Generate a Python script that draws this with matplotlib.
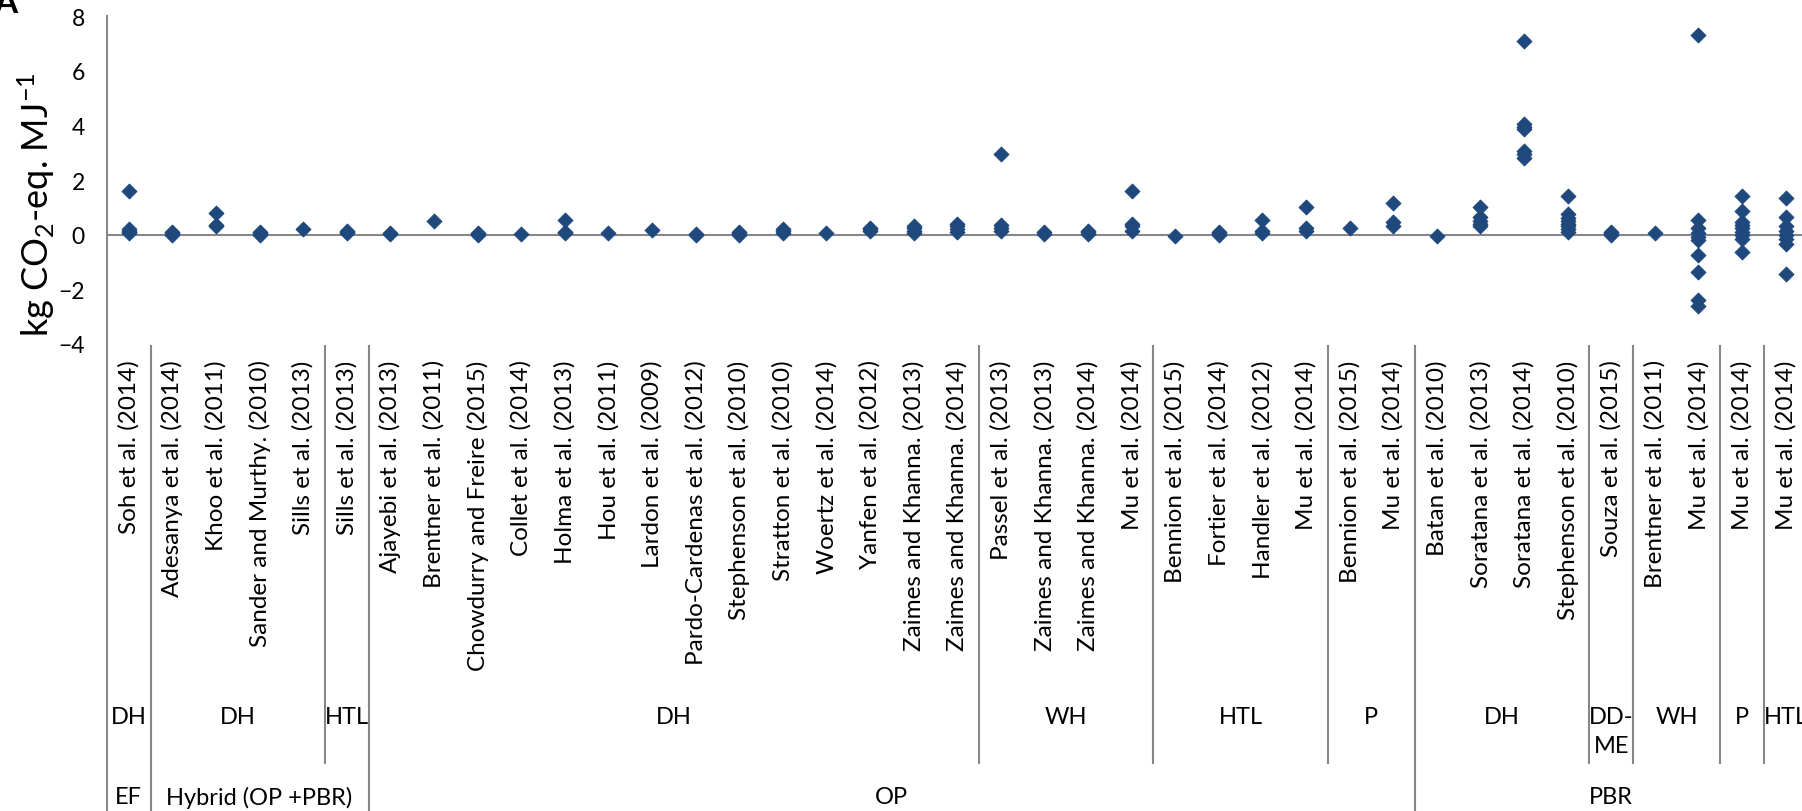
import matplotlib
matplotlib.use('Agg')
from matplotlib import pyplot as plt
from matplotlib import transforms
import numpy as np

# study labels, left to right
studies = [
    'Soh et al. (2014)',
    'Adesanya et al. (2014)', 'Khoo et al. (2011)', 'Sander and Murthy. (2010)', 'Sills et al. (2013)',
    'Sills et al. (2013)',
    'Ajayebi et al. (2013)', 'Brentner et al. (2011)', 'Chowdurry and Freire (2015)', 'Collet et al. (2014)',
    'Holma et al. (2013)', 'Hou et al. (2011)', 'Lardon et al. (2009)', 'Pardo-Cardenas et al. (2012)',
    'Stephenson et al. (2010)', 'Stratton et al. (2010)', 'Woertz et al. (2014)', 'Yanfen et al. (2012)',
    'Zaimes and Khanna. (2013)', 'Zaimes and Khanna. (2014)',
    'Passel et al. (2013)', 'Zaimes and Khanna. (2013)', 'Zaimes and Khanna. (2014)', 'Mu et al. (2014)',
    'Bennion et al. (2015)', 'Fortier et al. (2014)', 'Handler et al. (2012)', 'Mu et al. (2014)',
    'Bennion et al. (2015)', 'Mu et al. (2014)',
    'Batan et al. (2010)', 'Soratana et al. (2013)', 'Soratana et al. (2014)', 'Stephenson et al. (2010)',
    'Souza et al. (2015)',
    'Brentner et al. (2011)', 'Mu et al. (2014)',
    'Mu et al. (2014)',
    'Mu et al. (2014)',
]

# conversion pathway groups (first level) and cultivation system (second level)
process_names = ['DH', 'DH', 'HTL', 'DH', 'WH', 'HTL', 'P', 'DH', 'DD-\nME', 'WH', 'P', 'HTL']
process_sizes = [1, 4, 1, 14, 4, 4, 2, 4, 1, 2, 1, 1]
system_names = ['EF', 'Hybrid (OP +PBR)', 'OP', 'PBR']
system_sizes = [1, 5, 24, 9]

# kg CO2-eq. per MJ, one list per study
ghg = [
    [1.6, 0.05, 0.1, 0.15, 0.2],
    [0.0, 0.05, 0.1],
    [0.8, 0.35, 0.3],
    [0.0, 0.05, 0.1],
    [0.22],
    [0.05, 0.1, 0.15],
    [0.03, 0.06],
    [0.5],
    [0.0, 0.03, 0.06],
    [0.03],
    [0.55, 0.1, 0.05],
    [0.05],
    [0.17],
    [0.0, 0.03],
    [0.0, 0.05, 0.1],
    [0.05, 0.15, 0.22],
    [0.05],
    [0.12, 0.2, 0.25],
    [0.05, 0.15, 0.25, 0.3],
    [0.1, 0.2, 0.3, 0.4],
    [2.95, 0.15, 0.25, 0.35],
    [0.03, 0.08],
    [0.03, 0.1, 0.15],
    [1.6, 0.15, 0.3, 0.4],
    [-0.05],
    [0.0, 0.05, 0.1],
    [0.55, 0.05, 0.15],
    [1.0, 0.15, 0.25],
    [0.25],
    [1.15, 0.3, 0.45],
    [-0.05],
    [1.0, 0.65, 0.5, 0.4, 0.3],
    [7.1, 4.05, 3.95, 3.85, 3.05, 2.95, 2.8],
    [1.42, 0.75, 0.6, 0.5, 0.4, 0.3, 0.2, 0.1],
    [0.0, 0.05, 0.1],
    [0.05],
    [7.3, 0.55, 0.25, 0.05, -0.1, -0.2, -0.75, -1.35, -2.4, -2.6],
    [1.42, 0.88, 0.45, 0.35, 0.25, 0.1, 0.0, -0.15, -0.65],
    [1.35, 0.65, 0.3, 0.15, 0.0, -0.15, -0.35, -1.45],
]

plt.rcParams['font.family'] = 'Lato'
plt.rcParams['mathtext.fontset'] = 'custom'
plt.rcParams['mathtext.rm'] = 'Lato'
plt.rcParams['mathtext.it'] = 'Lato'
plt.rcParams['mathtext.default'] = 'regular'

W, H = 1802, 812
fig = plt.figure(figsize=(W / 100, H / 100), dpi=100)
n = len(studies)
cat_w = 43.6
ax = fig.add_axes([107 / W, 1 - 345 / H, n * cat_w / W, (345 - 17) / H])

blue = '#1f497d'
grey = '#878787'

for i, vals in enumerate(ghg):
    ax.scatter(np.full(len(vals), i + 0.5), vals, marker='D', s=56,
               color=blue, edgecolors=blue, linewidths=0.8, zorder=3, clip_on=False)

ax.axhline(0, color=grey, lw=1.5, zorder=1)
ax.set_xlim(0, n)
ax.set_ylim(-4, 8)
ax.set_yticks(range(-4, 9, 2))
ax.tick_params(axis='y', length=0, pad=16, labelsize=16.5)
ax.set_xticks(np.arange(n) + 0.5)
ax.set_xticklabels(studies, rotation=90, fontsize=17.5)
ax.tick_params(axis='x', length=0, pad=11)
for s in ['top', 'right', 'bottom']:
    ax.spines[s].set_visible(False)
ax.spines['left'].set_color(grey)
ax.spines['left'].set_linewidth(1.5)

fig.text(36 / W, 1 - 205 / H, r'kg CO$_2$-eq. MJ$^{-1}$', rotation=90,
         ha='center', va='center', fontsize=26)
fig.text(-6 / W, 1 - 13 / H, 'A', fontsize=24, fontweight='bold', va='baseline')

# grouping lines and labels under the study names
trans = transforms.blended_transform_factory(ax.transData, fig.transFigure)
sys_edges = np.concatenate([[0], np.cumsum(system_sizes)])
proc_edges = np.concatenate([[0], np.cumsum(process_sizes)])
for e in proc_edges:
    bottom = 812 if e in sys_edges else 764
    ax.plot([e, e], [1 - 347 / H, 1 - bottom / H], transform=trans,
            color=grey, lw=1.5, clip_on=False)
for name, a, b in zip(process_names, proc_edges[:-1], proc_edges[1:]):
    ax.text((a + b) / 2, 1 - 707 / H, name, transform=trans, ha='center', va='top',
            fontsize=17, linespacing=1.45)
for name, a, b in zip(system_names, sys_edges[:-1], sys_edges[1:]):
    ax.text((a + b) / 2, 1 - 798 / H, name, transform=trans, ha='center', va='center',
            fontsize=17)

fig.savefig('out.png', dpi=100)
